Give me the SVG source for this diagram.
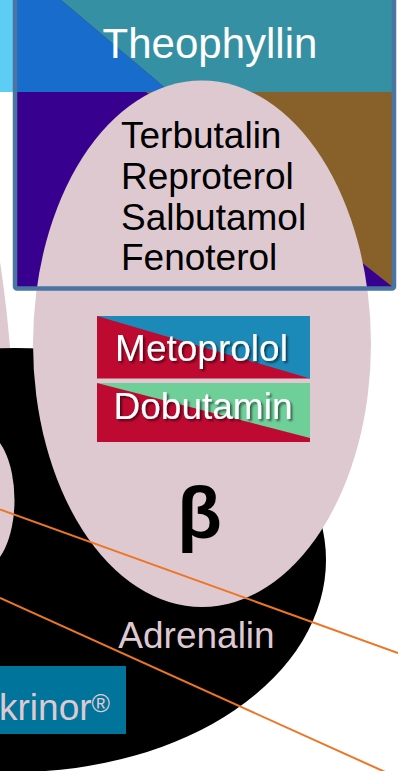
<svg xmlns="http://www.w3.org/2000/svg" width="398" height="771" viewBox="0 0 398 771">
<style>
text{font-family:"Liberation Sans",Arial,sans-serif}
.pink{fill:#dfc9d1}
.lbl{font-size:37px;fill:#000}
.wt{font-size:37px;fill:#fff;text-anchor:middle}
.pt{font-size:37px;fill:#dfc9d1}
.conn{stroke:#ec7626;stroke-width:2;fill:none}
</style>
<defs>
<filter id="sh" x="-10%" y="-20%" width="130%" height="150%">
<feDropShadow dx="2" dy="2" stdDeviation="1" flood-color="#000" flood-opacity="0.55"/>
</filter>
</defs>
<rect x="0" y="0" width="16" height="92" fill="#5ecdf5"/>
<g id="theophyllin-box">
<rect x="15" y="0" width="379" height="289" fill="#37008f"/>
<polygon points="15,0 61,0 170,92 15,92" fill="#186ccc"/>
<polygon points="61,0 394,0 394,92 170,92" fill="#3590a3"/>
<polygon points="146,92 394,92 394,288" fill="#88602a"/>
</g>
<ellipse id="alpha-ellipse" class="pink" cx="-100" cy="470" rx="115" ry="421"/>
<ellipse id="adrenalin-ellipse" cx="15" cy="560" rx="311" ry="212" fill="#000"/>
<ellipse id="alpha-ellipse-2" class="pink" cx="-20" cy="500" rx="34.5" ry="70"/>
<ellipse id="beta-ellipse" class="pink" cx="202" cy="343.8" rx="169" ry="263.3"/>
<rect x="15" y="-10" width="379" height="298.5" rx="2" fill="none" stroke="#4a74a2" stroke-width="4.5"/>
<text x="210" y="58" font-size="42" fill="#fff" text-anchor="middle">Theophyllin</text>
<g id="agonists">
<text class="lbl" x="121" y="148">Terbutalin</text>
<text class="lbl" x="121" y="188.5">Reproterol</text>
<text class="lbl" x="121" y="229.5">Salbutamol</text>
<text class="lbl" x="121" y="270">Fenoterol</text>
</g>
<g id="metoprolol">
<rect x="97" y="316" width="213" height="62.5" fill="#be0a30"/>
<polygon points="97,316 310,316 310,378.5" fill="#1b8ab8"/>
<text class="wt" x="201.5" y="361" filter="url(#sh)">Metoprolol</text>
</g>
<g id="dobutamin">
<rect x="97" y="383" width="213" height="59" fill="#be0a30"/>
<polygon points="97,383 310,383 310,438" fill="#6fcf99"/>
<text class="wt" x="203" y="419" filter="url(#sh)">Dobutamin</text>
</g>
<text id="beta" x="199.5" y="538" font-size="73" font-weight="bold" fill="#000" text-anchor="middle">β</text>
<text id="adrenalin" class="pt" x="196.5" y="647.5" text-anchor="middle">Adrenalin</text>
<g id="akrinor">
<rect x="0" y="666" width="126" height="68" fill="#00749b"/>
<text class="pt" x="110" y="720" text-anchor="end">krinor<tspan font-size="25" dy="-8.5">®</tspan></text>
</g>
<g id="connectors">
<line class="conn" x1="0" y1="509.5" x2="398" y2="653"/>
<line class="conn" x1="0" y1="598" x2="400" y2="778.7"/>
</g>
</svg>
